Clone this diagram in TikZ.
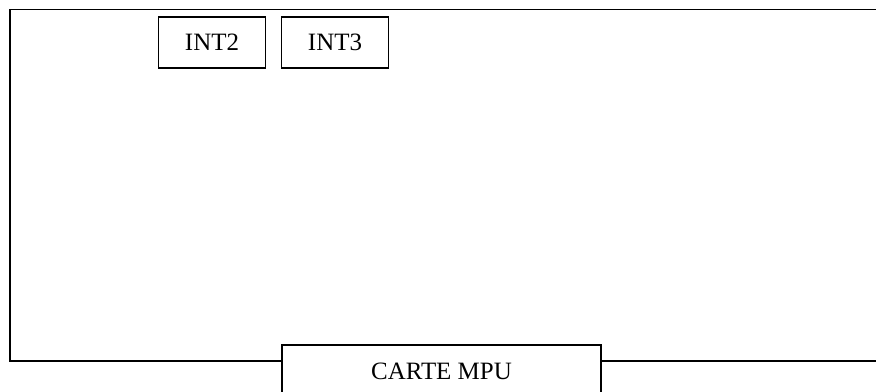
\documentclass[tikz,border=0pt]{standalone}
\usepackage{fontspec}
\setmainfont{Liberation Serif}
\begin{document}
\begin{tikzpicture}[line join=miter,line width=1pt]
			\tikzset{every node/.style={font=\fontsize{14.2}{17}\selectfont},
				intbox/.style={draw,minimum width=2.14cm,minimum height=1.02cm,inner sep=0pt}}
			\useasboundingbox (0,0) rectangle (17.52,7.82);
			% frame of the board, open on the right
			\draw (17.7,7.63)--(0.2,7.63)--(0.2,0.60)--(5.64,0.60);
			\draw (12.02,0.60)--(17.7,0.60);
			% connectors along the top edge
			\node[intbox] (int2) at (4.24,6.97) {INT2};
			\node[intbox] (int3) at (6.70,6.97) {INT3};
			% board name, box runs off the bottom
			\node[draw,anchor=north,minimum width=6.38cm,inner xsep=0pt,inner ysep=0pt,
				text height=0.70cm,text depth=0.60cm] (mpu) at (8.83,0.94) {CARTE MPU};
		\end{tikzpicture}
\end{document}
